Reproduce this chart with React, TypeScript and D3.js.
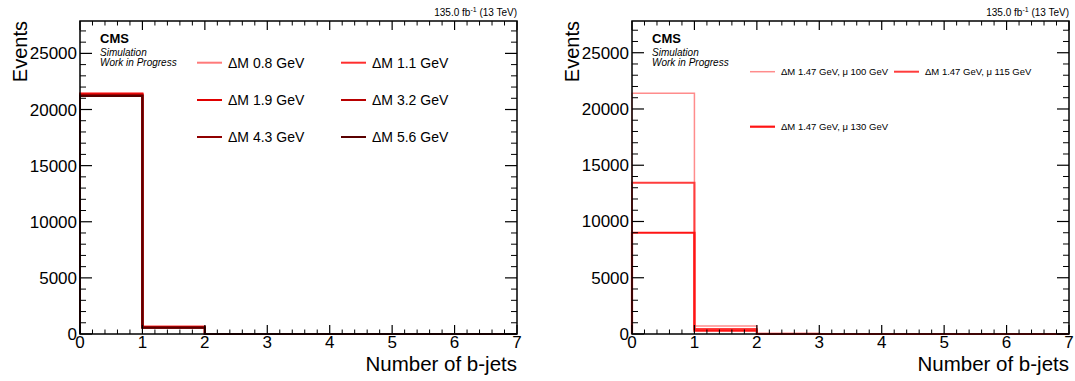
import React from "react";
import * as d3 from "d3";

const FONT = "'Liberation Sans', Arial, Helvetica, sans-serif";

// bin low edges for "Number of b-jets", plus upper edge
const binEdges = [0, 1, 2, 3, 4, 5, 6, 7];
const xTicks = [0, 1, 2, 3, 4, 5, 6, 7];
const yTicks = [0, 5000, 10000, 15000, 20000, 25000];

// left panel: mass splittings
const leftNames = ["ΔM 0.8 GeV", "ΔM 1.1 GeV", "ΔM 1.9 GeV", "ΔM 3.2 GeV", "ΔM 4.3 GeV", "ΔM 5.6 GeV"];
const dm08 = [21450, 660, 10, 1, 0, 0, 0];
const dm11 = [21400, 640, 10, 1, 0, 0, 0];
const dm19 = [21350, 610, 9, 1, 0, 0, 0];
const dm32 = [21300, 590, 9, 0, 0, 0, 0];
const dm43 = [21250, 570, 8, 0, 0, 0, 0];
const dm56 = [21200, 550, 8, 0, 0, 0, 0];
const leftColors = ["#ff7a7a", "#ff2e2e", "#e00000", "#b80000", "#900000", "#5a0000"];

// right panel: fixed dM, different mu
const rightNames = ["ΔM 1.47 GeV, μ 100 GeV", "ΔM 1.47 GeV, μ 115 GeV", "ΔM 1.47 GeV, μ 130 GeV"];
const mu100 = [21400, 700, 15, 1, 0, 0, 0];
const mu115 = [13450, 450, 10, 0, 0, 0, 0];
const mu130 = [9000, 300, 8, 0, 0, 0, 0];
const rightColors = ["#ff8c8c", "#ff3c3c", "#ff1414"];

const TOP = 21;
const BOTTOM = 334;
const PW = 437;

type PanelProps = {
  x0: number;
  names: string[];
  series: number[][];
  colors: string[];
  widths: number[];
  colOffsets: number[];
  rows: number[];
  legendSize: number;
};

const Panel = ({ x0, names, series, colors, widths, colOffsets, rows, legendSize }: PanelProps) => {
  const x = d3.scaleLinear().domain([0, 7]).range([x0, x0 + PW]);
  const ymax = 1.3 * (d3.max(series.flat()) as number);
  const y = d3.scaleLinear().domain([0, ymax]).range([BOTTOM, TOP]);

  const line = d3
    .line<[number, number]>()
    .x((d) => x(d[0]))
    .y((d) => y(d[1]))
    .curve(d3.curveStepAfter);

  const histPath = (vals: number[]) => {
    const pts: [number, number][] = [[0, 0]];
    vals.forEach((v, i) => pts.push([binEdges[i], v]));
    pts.push([binEdges[binEdges.length - 1], vals[vals.length - 1]]);
    pts.push([binEdges[binEdges.length - 1], 0]);
    return line(pts) as string;
  };

  const xMinor = d3.range(0, 7.0001, 0.2).filter((v) => Math.abs(v - Math.round(v)) > 1e-6);
  const yMinor = d3.range(0, ymax, 1000).filter((v) => v % 5000 !== 0);

  return (
    <g fontFamily={FONT}>
      {/* histograms */}
      {series.map((vals, i) => (
        <path key={i} d={histPath(vals)} fill="none" stroke={colors[i]} strokeWidth={widths[i]} />
      ))}

      {/* frame */}
      <rect x={x0} y={TOP} width={PW} height={BOTTOM - TOP} fill="none" stroke="#000" strokeWidth={1.5} />

      {/* x ticks bottom and top */}
      {xTicks.map((t) => (
        <g key={"xt" + t}>
          <line x1={x(t)} x2={x(t)} y1={BOTTOM} y2={BOTTOM - 9} stroke="#000" strokeWidth={1.2} />
          <line x1={x(t)} x2={x(t)} y1={TOP} y2={TOP + 9} stroke="#000" strokeWidth={1.2} />
          <text x={x(t)} y={348} fontSize={17} textAnchor="middle">{t}</text>
        </g>
      ))}
      {xMinor.map((t, i) => (
        <g key={"xm" + i}>
          <line x1={x(t)} x2={x(t)} y1={BOTTOM} y2={BOTTOM - 4.5} stroke="#000" strokeWidth={1} />
          <line x1={x(t)} x2={x(t)} y1={TOP} y2={TOP + 4.5} stroke="#000" strokeWidth={1} />
        </g>
      ))}

      {/* y ticks left and right */}
      {yTicks.map((t) => (
        <g key={"yt" + t}>
          <line x1={x0} x2={x0 + 12} y1={y(t)} y2={y(t)} stroke="#000" strokeWidth={1.2} />
          <line x1={x0 + PW} x2={x0 + PW - 12} y1={y(t)} y2={y(t)} stroke="#000" strokeWidth={1.2} />
          <text x={x0 - 3} y={y(t) + 6} fontSize={17} textAnchor="end">{t}</text>
        </g>
      ))}
      {yMinor.map((t) => (
        <g key={"ym" + t}>
          <line x1={x0} x2={x0 + 6} y1={y(t)} y2={y(t)} stroke="#000" strokeWidth={1} />
          <line x1={x0 + PW} x2={x0 + PW - 6} y1={y(t)} y2={y(t)} stroke="#000" strokeWidth={1} />
        </g>
      ))}

      {/* axis titles */}
      <text x={x0 + PW} y={371} fontSize={20.5} textAnchor="end">Number of b-jets</text>
      <text transform={`translate(${x0 - 53},${TOP}) rotate(-90)`} fontSize={20} textAnchor="end">Events</text>

      {/* lumi label */}
      <text x={x0 + PW} y={16} fontSize={10} textAnchor="end">
        135.0 fb<tspan dy={-4} fontSize={7}>-1</tspan><tspan dy={4}> (13 TeV)</tspan>
      </text>

      {/* CMS label */}
      <text x={x0 + 20} y={43} fontSize={13} fontWeight="bold">CMS</text>
      <text x={x0 + 20} y={55.5} fontSize={10} fontStyle="italic">Simulation</text>
      <text x={x0 + 20} y={66} fontSize={10} fontStyle="italic">Work in Progress</text>

      {/* legend */}
      {names.map((n, i) => {
        const lx = x0 + colOffsets[i % 2];
        const ly = rows[Math.floor(i / 2)];
        return (
          <g key={"lg" + i}>
            <line x1={lx} x2={lx + 25} y1={ly} y2={ly} stroke={colors[i]} strokeWidth={widths[i]} />
            <text x={lx + 31} y={ly + legendSize * 0.36} fontSize={legendSize}>{n}</text>
          </g>
        );
      })}
    </g>
  );
};

const App = () => {
  return (
    <div style={{ position: "fixed", left: 0, top: 0 }}>
      <svg width={1075} height={381} style={{ display: "block", background: "#fff" }}>
        <Panel
          x0={80}
          names={leftNames}
          series={[dm08, dm11, dm19, dm32, dm43, dm56]}
          colors={leftColors}
          widths={[2, 2, 2, 2, 2, 2]}
          colOffsets={[117, 261]}
          rows={[62.7, 100, 137]}
          legendSize={14}
        />
        <Panel
          x0={632}
          names={rightNames}
          series={[mu100, mu115, mu130]}
          colors={rightColors}
          widths={[1.5, 2, 2.2]}
          colOffsets={[118, 262]}
          rows={[71.7, 126.7]}
          legendSize={9.5}
        />
      </svg>
    </div>
  );
};

export default App;
